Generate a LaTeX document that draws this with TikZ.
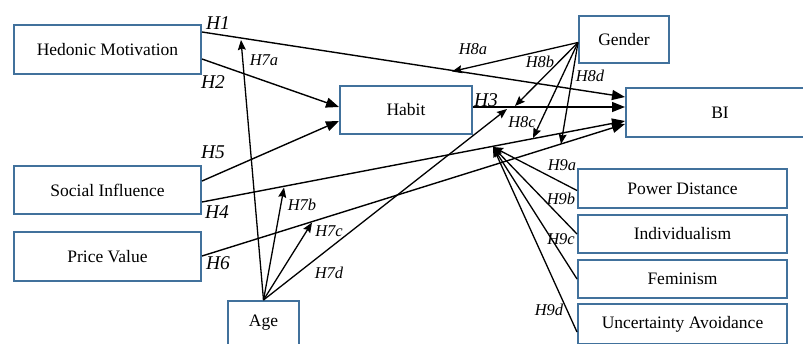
\documentclass[tikz,border=0pt]{standalone}
\usepackage{fontspec}
\setmainfont{Liberation Serif}
\usetikzlibrary{arrows.meta,calc}
\definecolor{boxblue}{RGB}{65,113,156}
\tikzset{
  box/.style={draw=boxblue,line width=2pt,fill=white,inner sep=0pt,font=\fontsize{17.5}{20}\selectfont},
  conn/.style={line width=1.4pt,-{Triangle[length=13pt,width=10pt]}},
  modarr/.style={line width=1.3pt,-{Stealth[length=10pt,width=8pt,inset=1.5pt]}},
  biglbl/.style={font=\fontsize{19.5}{22}\selectfont\itshape,inner sep=0pt},
  smalllbl/.style={font=\fontsize{16.5}{19}\selectfont\itshape,inner sep=0pt}
}
\begin{document}
\begin{tikzpicture}[x=1pt,y=-1pt]
\useasboundingbox (0,0) rectangle (803,343);
\clip (0,0) rectangle (803,343);
% boxes
\node[box,minimum width=187pt,minimum height=49pt] (hm) at (107.5,49.5) {Hedonic Motivation};
\node[box,minimum width=132pt,minimum height=48pt] (habit) at (406,110) {Habit};
\node[box,minimum width=90pt,minimum height=47pt] (gender) at (624,39.5) {Gender};
\node[box,minimum width=188pt,minimum height=49pt] (bi) at (720,112.5) {BI};
\node[box,minimum width=187pt,minimum height=48pt] (si) at (107.5,190) {Social Influence};
\node[box,minimum width=187pt,minimum height=49pt] (pv) at (107.5,256.5) {Price Value};
\node[box,minimum width=71pt,minimum height=44pt] (age) at (263.5,323) {Age};
\node[box,minimum width=209pt,minimum height=39pt] (pd) at (682.5,188.5) {Power Distance};
\node[box,minimum width=209pt,minimum height=38pt] (ind) at (682.5,234) {Individualism};
\node[box,minimum width=209pt,minimum height=38pt] (fem) at (682.5,279) {Feminism};
\node[box,minimum width=209pt,minimum height=40pt] (ua) at (682.5,324) {Uncertainty Avoidance};
% moderation target points
\coordinate (m7a) at (241,40);
\coordinate (m7b) at (284,187.5);
\coordinate (m7c) at (312,222.5);
\coordinate (m7d) at (507,109);
\coordinate (m8a) at (452,71.5);
\coordinate (m8b) at (515,106);
\coordinate (m8c) at (533,138);
\coordinate (m8d) at (561,144);
\coordinate (m9) at (493,147);
% main paths
\draw[conn] ($(hm.north east)+(0,8)$) -- ($(bi.north west)+(0,10)$);
\draw[conn] ($(hm.north east)+(0,35)$) -- ($(habit.north west)+(0,22)$);
\draw[conn] ($(si.north east)+(0,16)$) -- ($(habit.north west)+(0,36)$);
\draw[conn] ($(habit.north east)+(0,22)$) -- ($(bi.north west)+(0,20)$);
\draw[conn] ($(si.north east)+(0,37)$) -- ($(bi.north west)+(0,34)$);
\draw[conn] ($(pv.north east)+(0,25)$) -- ($(bi.north west)+(0,37)$);
% age moderation
\draw[modarr] (age.north) -- (m7a);
\draw[modarr] (age.north) -- (m7b);
\draw[modarr] (age.north) -- (m7c);
\draw[modarr] (age.north) -- (m7d);
% gender moderation
\draw[modarr] ($(gender.west)+(0,3)$) -- (m8a);
\draw[modarr] ($(gender.west)+(0,3)$) -- (m8b);
\draw[modarr] ($(gender.west)+(0,3)$) -- (m8c);
\draw[modarr] ($(gender.west)+(0,3)$) -- (m8d);
% culture moderation
\draw[modarr] ($(pd.west)+(0,2)$) -- (m9);
\draw[modarr] (ind.west) -- (m9);
\draw[modarr] (fem.west) -- (m9);
\draw[modarr] ($(ua.west)+(0,8)$) -- (m9);
% labels
\node[biglbl] (lh1) at (218,23) {H1};
\node[biglbl] (lh2) at (213,82) {H2};
\node[biglbl] (lh5) at (213,152) {H5};
\node[biglbl] (lh4) at (217,212) {H4};
\node[biglbl] (lh6) at (218,263) {H6};
\node[biglbl] (lh3) at (486,100) {H3};
\node[smalllbl] (l7a) at (264,60) {H7a};
\node[smalllbl] (l7b) at (302,205) {H7b};
\node[smalllbl] (l7c) at (329,231) {H7c};
\node[smalllbl] (l7d) at (329,273) {H7d};
\node[smalllbl] (l8a) at (473,49) {H8a};
\node[smalllbl] (l8b) at (540,62) {H8b};
\node[smalllbl] (l8c) at (522,122) {H8c};
\node[smalllbl] (l8d) at (590,76) {H8d};
\node[smalllbl] (l9a) at (562,165) {H9a};
\node[smalllbl] (l9b) at (561,199) {H9b};
\node[smalllbl] (l9c) at (561,239) {H9c};
\node[smalllbl] (l9d) at (549,310) {H9d};
\end{tikzpicture}
\end{document}
